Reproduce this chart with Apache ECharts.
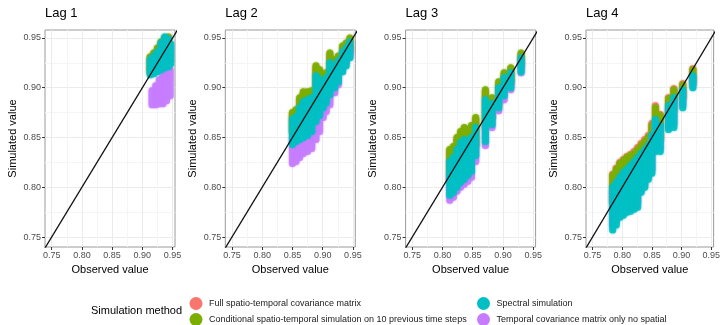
<!DOCTYPE html>
<html>
<head>
<meta charset="utf-8">
<script src="https://cdn.jsdelivr.net/npm/echarts@6/dist/echarts.min.js"></script>
<style>
  html, body { margin: 0; background: #fff; }
  #chart { width: 723px; height: 325px; }
</style>
</head>
<body>
<div id="chart"></div>
<script>
// simulation methods, in ggplot's factor order
const methods = [
  'Full spatio-temporal covariance matrix',
  'Conditional spatio-temporal simulation on 10 previous time steps',
  'Spectral simulation',
  'Temporal covariance matrix only no spatial'
]
const methodColors = ['#F8766D', '#7CAE00', '#00BFC4', '#C77CFF']
const lags = ['Lag 1', 'Lag 2', 'Lag 3', 'Lag 4']
const tickValues = [0.75, 0.80, 0.85, 0.90, 0.95]
const xRange = [0.739, 0.954]
const yRange = [0.740, 0.958]
const diagonal = [[0.70, 0.70], [1.00, 1.00]]

// each row: [observed value, lowest simulated, highest simulated]
const lag1Full = [[0.913, 0.916, 0.930], [0.919, 0.918, 0.934], [0.925, 0.919, 0.939], [0.931, 0.922, 0.945], [0.937, 0.926, 0.949], [0.943, 0.928, 0.950]]
const lag1Cond = [[0.913, 0.915, 0.931], [0.919, 0.917, 0.935], [0.925, 0.918, 0.940], [0.931, 0.921, 0.946], [0.937, 0.925, 0.950], [0.943, 0.928, 0.951]]
const lag1Spectral = [[0.913, 0.913, 0.928], [0.919, 0.914, 0.932], [0.925, 0.916, 0.936], [0.931, 0.918, 0.945], [0.937, 0.920, 0.951], [0.943, 0.921, 0.949], [0.947, 0.924, 0.944]]
const lag1Temporal = [[0.916, 0.883, 0.897], [0.922, 0.883, 0.902], [0.928, 0.884, 0.908], [0.934, 0.884, 0.915], [0.940, 0.887, 0.920], [0.946, 0.892, 0.918]]

const lag2Full = [[0.850, 0.856, 0.873], [0.856, 0.859, 0.877], [0.862, 0.863, 0.888], [0.868, 0.867, 0.894], [0.875, 0.869, 0.894], [0.882, 0.871, 0.895], [0.889, 0.886, 0.920], [0.895, 0.886, 0.916], [0.901, 0.891, 0.911], [0.906, 0.896, 0.913], [0.912, 0.906, 0.933], [0.920, 0.911, 0.926], [0.926, 0.916, 0.930], [0.933, 0.926, 0.940], [0.939, 0.931, 0.943], [0.945, 0.937, 0.948]]
const lag2Cond = [[0.850, 0.855, 0.875], [0.856, 0.858, 0.878], [0.862, 0.862, 0.890], [0.868, 0.866, 0.896], [0.875, 0.868, 0.896], [0.882, 0.870, 0.897], [0.889, 0.885, 0.922], [0.895, 0.885, 0.918], [0.901, 0.890, 0.913], [0.906, 0.895, 0.915], [0.912, 0.905, 0.935], [0.920, 0.910, 0.928], [0.926, 0.915, 0.932], [0.933, 0.925, 0.942], [0.939, 0.930, 0.945], [0.945, 0.936, 0.950]]
const lag2Spectral = [[0.850, 0.843, 0.868], [0.856, 0.846, 0.871], [0.862, 0.848, 0.880], [0.868, 0.850, 0.886], [0.875, 0.852, 0.888], [0.882, 0.856, 0.890], [0.889, 0.866, 0.912], [0.895, 0.872, 0.908], [0.901, 0.880, 0.905], [0.906, 0.885, 0.910], [0.912, 0.893, 0.925], [0.920, 0.900, 0.922], [0.926, 0.906, 0.927], [0.933, 0.916, 0.936], [0.939, 0.922, 0.940], [0.945, 0.930, 0.946]]
const lag2Temporal = [[0.850, 0.824, 0.850], [0.856, 0.826, 0.852], [0.862, 0.830, 0.855], [0.868, 0.834, 0.858], [0.875, 0.836, 0.862], [0.882, 0.839, 0.866], [0.889, 0.848, 0.878], [0.895, 0.856, 0.884], [0.901, 0.870, 0.890], [0.906, 0.876, 0.895], [0.912, 0.883, 0.905], [0.920, 0.895, 0.912], [0.926, 0.903, 0.917], [0.933, 0.917, 0.928], [0.939, 0.925, 0.934], [0.945, 0.932, 0.940]]

const lag3Full = [[0.812, 0.809, 0.836], [0.818, 0.813, 0.839], [0.824, 0.819, 0.848], [0.830, 0.823, 0.854], [0.836, 0.827, 0.858], [0.842, 0.829, 0.856], [0.848, 0.833, 0.860], [0.855, 0.843, 0.868], [0.871, 0.861, 0.896], [0.882, 0.871, 0.888], [0.893, 0.886, 0.904], [0.902, 0.899, 0.913], [0.913, 0.906, 0.918], [0.930, 0.923, 0.933]]
const lag3Cond = [[0.812, 0.808, 0.838], [0.818, 0.812, 0.841], [0.824, 0.818, 0.850], [0.830, 0.822, 0.856], [0.836, 0.826, 0.860], [0.842, 0.828, 0.858], [0.848, 0.832, 0.862], [0.855, 0.842, 0.870], [0.871, 0.860, 0.898], [0.882, 0.870, 0.890], [0.893, 0.885, 0.906], [0.902, 0.898, 0.915], [0.913, 0.905, 0.920], [0.930, 0.922, 0.935]]
const lag3Spectral = [[0.812, 0.792, 0.826], [0.818, 0.795, 0.830], [0.824, 0.800, 0.838], [0.830, 0.805, 0.845], [0.836, 0.808, 0.848], [0.842, 0.812, 0.846], [0.848, 0.816, 0.850], [0.855, 0.832, 0.860], [0.871, 0.846, 0.888], [0.882, 0.863, 0.884], [0.893, 0.880, 0.900], [0.902, 0.892, 0.910], [0.913, 0.900, 0.915], [0.930, 0.916, 0.930]]
const lag3Temporal = [[0.812, 0.787, 0.812], [0.818, 0.790, 0.815], [0.824, 0.796, 0.820], [0.830, 0.800, 0.825], [0.836, 0.803, 0.828], [0.842, 0.806, 0.830], [0.848, 0.810, 0.835], [0.855, 0.826, 0.845], [0.871, 0.842, 0.865], [0.882, 0.860, 0.875], [0.893, 0.877, 0.890], [0.902, 0.888, 0.900], [0.913, 0.898, 0.908], [0.930, 0.915, 0.925]]

const lag4Full = [[0.784, 0.786, 0.813], [0.790, 0.789, 0.819], [0.796, 0.793, 0.825], [0.802, 0.797, 0.828], [0.808, 0.801, 0.831], [0.814, 0.805, 0.833], [0.820, 0.809, 0.836], [0.826, 0.813, 0.840], [0.832, 0.819, 0.844], [0.838, 0.823, 0.848], [0.844, 0.829, 0.852], [0.850, 0.836, 0.864], [0.856, 0.851, 0.882], [0.864, 0.849, 0.873], [0.878, 0.871, 0.890], [0.887, 0.879, 0.899], [0.902, 0.891, 0.904], [0.919, 0.906, 0.919]]
const lag4Cond = [[0.784, 0.785, 0.812], [0.790, 0.788, 0.818], [0.796, 0.792, 0.824], [0.802, 0.796, 0.827], [0.808, 0.800, 0.830], [0.814, 0.804, 0.832], [0.820, 0.808, 0.834], [0.826, 0.812, 0.838], [0.832, 0.818, 0.842], [0.838, 0.822, 0.846], [0.844, 0.828, 0.850], [0.850, 0.835, 0.862], [0.856, 0.850, 0.880], [0.864, 0.848, 0.872], [0.878, 0.870, 0.889], [0.887, 0.878, 0.898], [0.902, 0.890, 0.903], [0.919, 0.905, 0.918]]
const lag4Spectral = [[0.784, 0.757, 0.800], [0.790, 0.762, 0.805], [0.796, 0.770, 0.810], [0.802, 0.772, 0.815], [0.808, 0.775, 0.818], [0.814, 0.776, 0.822], [0.820, 0.778, 0.826], [0.826, 0.780, 0.830], [0.832, 0.795, 0.834], [0.838, 0.800, 0.838], [0.844, 0.808, 0.842], [0.850, 0.814, 0.852], [0.856, 0.836, 0.868], [0.864, 0.836, 0.862], [0.878, 0.858, 0.882], [0.887, 0.860, 0.890], [0.902, 0.880, 0.898], [0.919, 0.900, 0.912]]
const lag4Temporal = [[0.784, 0.762, 0.795], [0.790, 0.766, 0.800], [0.796, 0.773, 0.806], [0.802, 0.776, 0.810], [0.808, 0.779, 0.814], [0.814, 0.780, 0.818], [0.820, 0.782, 0.822], [0.826, 0.785, 0.826], [0.832, 0.798, 0.830], [0.838, 0.803, 0.834], [0.844, 0.811, 0.838], [0.850, 0.818, 0.848], [0.856, 0.839, 0.864], [0.864, 0.839, 0.858], [0.878, 0.861, 0.878], [0.887, 0.864, 0.886], [0.902, 0.883, 0.895], [0.919, 0.902, 0.910]]

const lagData = [
  [lag1Full, lag1Cond, lag1Spectral, lag1Temporal],
  [lag2Full, lag2Cond, lag2Spectral, lag2Temporal],
  [lag3Full, lag3Cond, lag3Spectral, lag3Temporal],
  [lag4Full, lag4Cond, lag4Spectral, lag4Temporal]
]

const font = "'Liberation Sans', Arial, sans-serif"
const panelLeft = [45, 225.3, 405.6, 586]
const panelWidth = 130
const panelTop = 30
const panelHeight = 217
// purple is drawn under cyan, as in the picture
const drawOrder = [0, 1, 3, 2]

const columnItem = (params, api) => {
  const obs = api.value(0)
  const top = api.coord([obs, api.value(2)])
  const bottom = api.coord([obs, api.value(1)])
  const w = 7
  const color = api.visual('color')
  return {
    type: 'rect',
    shape: { x: top[0] - w / 2, y: top[1] - w / 2, width: w, height: bottom[1] - top[1] + w, r: w / 2 },
    style: { fill: color, opacity: 0.85, shadowBlur: 2, shadowColor: color }
  }
}

const makeAxis = (i, range, name, isX) => ({
  gridIndex: i,
  type: 'value',
  min: range[0],
  max: range[1],
  name,
  nameLocation: 'middle',
  nameGap: isX ? 15 : 27,
  nameTextStyle: { color: '#000', fontSize: 11, fontFamily: font },
  axisLine: { show: false },
  axisTick: { show: true, length: 3, customValues: tickValues, lineStyle: { color: '#333' } },
  axisLabel: {
    customValues: tickValues,
    formatter: (v) => v.toFixed(2),
    color: '#4d4d4d',
    fontSize: 9,
    fontFamily: font,
    margin: 4
  },
  splitLine: { show: true, lineStyle: { color: '#ebebeb', width: 1 } },
  minorTick: { show: false, splitNumber: 2 },
  minorSplitLine: { show: true, lineStyle: { color: '#f5f5f5', width: 1 } }
})

const series = []
lags.forEach((lag, i) => {
  drawOrder.forEach((m) => {
    series.push({
      type: 'custom',
      name: methods[m],
      xAxisIndex: i,
      yAxisIndex: i,
      itemStyle: { color: methodColors[m] },
      encode: { x: 0, y: [1, 2] },
      renderItem: columnItem,
      clip: true,
      silent: true,
      data: lagData[i][m]
    })
  })
  series.push({
    type: 'line',
    xAxisIndex: i,
    yAxisIndex: i,
    data: diagonal,
    symbol: 'none',
    clip: true,
    silent: true,
    lineStyle: { color: '#111', width: 1.3 },
    z: 5
  })
})

const legendBase = {
  orient: 'vertical',
  top: 297,
  height: 60,
  icon: 'circle',
  itemWidth: 16,
  itemHeight: 13,
  itemGap: 3,
  padding: 0,
  textStyle: { fontSize: 9, color: '#1a1a1a', fontFamily: font }
}

const option = {
  animation: false,
  backgroundColor: '#fff',
  title: [
    ...lags.map((lag, i) => ({
      text: lag,
      left: panelLeft[i],
      top: 7,
      padding: 0,
      textStyle: { color: '#000', fontSize: 13, fontWeight: 'normal', fontFamily: font }
    })),
    {
      text: 'Simulation method',
      left: 91,
      top: 305,
      padding: 0,
      textStyle: { color: '#000', fontSize: 11, fontWeight: 'normal', fontFamily: font }
    }
  ],
  legend: [
    { ...legendBase, data: [methods[0], methods[1]], left: 189.5 },
    { ...legendBase, data: [methods[2], methods[3]], left: 477 }
  ],
  grid: lags.map((lag, i) => ({
    left: panelLeft[i],
    top: panelTop,
    width: panelWidth,
    height: panelHeight,
    show: true,
    borderColor: '#9a9a9a',
    borderWidth: 1,
    backgroundColor: 'transparent'
  })),
  xAxis: lags.map((lag, i) => makeAxis(i, xRange, 'Observed value', true)),
  yAxis: lags.map((lag, i) => makeAxis(i, yRange, 'Simulated value', false)),
  series
}

const chart = echarts.init(document.getElementById('chart'))
chart.setOption(option)
</script>
</body>
</html>
